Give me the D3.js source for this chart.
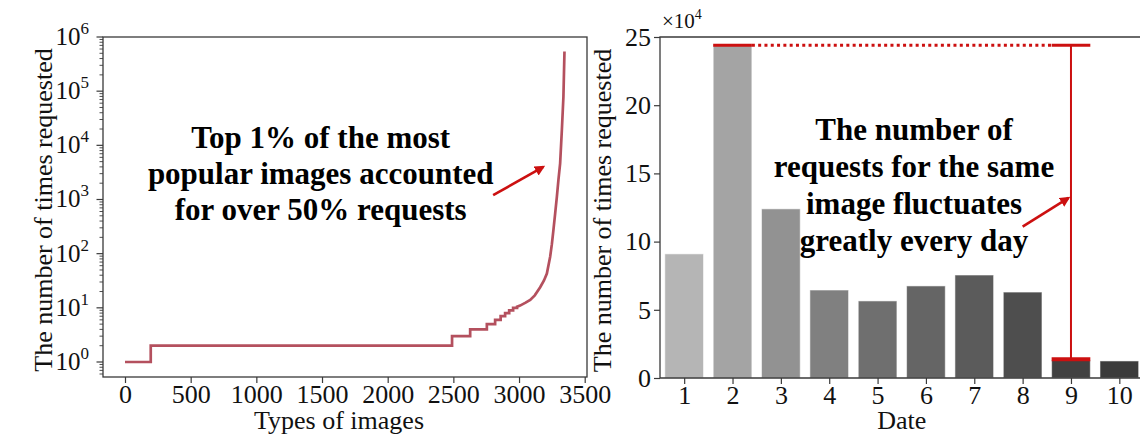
<!DOCTYPE html>
<html>
<head>
<meta charset="utf-8">
<script src="https://cdn.jsdelivr.net/npm/d3@7"></script>
<style>
  html, body { margin: 0; padding: 0; background: #fff; }
  svg { display: block; }
</style>
</head>
<body>
<svg id="chart" width="1140" height="435"></svg>
<script>
// ---------------- data ----------------
// Left panel: popularity of image types (sorted)
const imageRank = [0, 196, 196, 2490, 2490, 2628, 2628, 2755, 2755, 2818, 2818, 2860, 2860, 2894, 2894,
  2925, 2925, 2955, 2955, 2985, 2985, 3008, 3050, 3085, 3120, 3161, 3190, 3212, 3237, 3250, 3262,
  3275, 3288, 3300, 3313, 3326, 3338, 3346];
const requestCount = [1, 1, 2, 2, 3, 3, 4, 4, 5, 5, 6, 6, 7, 7, 8,
  8, 9, 9, 10, 10, 10.5, 11, 12.5, 14, 17, 24, 32, 43, 88, 150, 274,
  550, 1120, 2300, 4650, 19000, 79000, 540000];
const leftXTicks = [0, 500, 1000, 1500, 2000, 2500, 3000, 3500];
const leftYExponents = [0, 1, 2, 3, 4, 5, 6];

// Right panel: requests for the same image per day
const dates = [1, 2, 3, 4, 5, 6, 7, 8, 9, 10];
const dailyRequests = [91000, 244000, 124000, 64500, 56500, 67500, 75500, 63000, 13000, 12500];
const rightYTicks = [0, 5, 10, 15, 20, 25];   // in units of 10^4
const barColors = ["#b5b5b5", "#a4a4a4", "#929292", "#808080", "#6f6f6f",
                   "#656565", "#5b5b5b", "#4e4e4e", "#414141", "#3b3b3b"];

const leftNote = ["Top 1% of the most", "popular images accounted", "for over 50% requests"];
const rightNote = ["The number of", "requests for the same", "image fluctuates", "greatly every day"];

// ---------------- font detection ----------------
function pickFont(cands) {
  const c = document.createElement("canvas").getContext("2d");
  const s = "The number of times requested 0123456789";
  for (const f of cands) {
    for (const base of ["monospace", "sans-serif"]) {
      c.font = `20px ${base}`; const w0 = c.measureText(s).width;
      c.font = `20px "${f}", ${base}`; const w1 = c.measureText(s).width;
      if (Math.abs(w1 - w0) > 0.5) return `"${f}"`;
    }
  }
  return "serif";
}
const FONT = pickFont(["Liberation Serif", "Times New Roman", "Tinos", "Nimbus Roman", "FreeSerif", "DejaVu Serif"]);

// ---------------- drawing ----------------
const svg = d3.select("#chart").style("font-family", FONT);
const axisColor = "#3a3a3a";
const red = "#cc1010";

svg.append("defs").append("marker")
  .attr("id", "arrow").attr("viewBox", "0 0 10 10")
  .attr("refX", 8).attr("refY", 5)
  .attr("markerWidth", 4).attr("markerHeight", 4)
  .attr("orient", "auto")
  .append("path").attr("d", "M0,0 L10,5 L0,10 z").attr("fill", red);

// ===== Left panel =====
const L = { x0: 103, x1: 587, y0: 377, y1: 37 };
const xL = d3.scaleLinear().domain([-167.5, 3517.5]).range([L.x0, L.x1]);
const yL = d3.scaleLog().domain([Math.pow(10, -0.277), 1e6]).range([L.y0, L.y1]);

const gL = svg.append("g");

const line = d3.line().x((d, i) => xL(imageRank[i])).y((d, i) => yL(requestCount[i]));
gL.append("path")
  .datum(requestCount)
  .attr("d", line)
  .attr("fill", "none")
  .attr("stroke", "#b4505e")
  .attr("stroke-width", 2.7)
  .attr("stroke-linejoin", "miter");

const xAxisL = d3.axisBottom(xL).tickValues(leftXTicks).tickSize(6).tickPadding(2).tickFormat(d3.format("d"));
const gxL = gL.append("g").attr("transform", `translate(0,${L.y0})`).call(xAxisL).attr("font-family", null);
gxL.select(".domain").remove();
gxL.selectAll("line").attr("stroke", axisColor).attr("stroke-width", 1.2);
gxL.selectAll("text").attr("font-size", 26).attr("fill", "#111");

const minor = [];
for (let k = -1; k < 6; k++) for (let m = 2; m <= 9; m++) {
  const v = m * Math.pow(10, k);
  if (v >= yL.domain()[0] && v <= 1e6) minor.push(v);
}
gL.selectAll(".minorL").data(minor).enter().append("line")
  .attr("x1", L.x0 - 3.5).attr("x2", L.x0)
  .attr("y1", d => yL(d)).attr("y2", d => yL(d))
  .attr("stroke", axisColor).attr("stroke-width", 0.9);
gL.selectAll(".majorL").data(leftYExponents).enter().append("line")
  .attr("x1", L.x0 - 6.5).attr("x2", L.x0)
  .attr("y1", d => yL(Math.pow(10, d))).attr("y2", d => yL(Math.pow(10, d)))
  .attr("stroke", axisColor).attr("stroke-width", 1.2);
const yLab = gL.selectAll(".ylabL").data(leftYExponents).enter().append("text")
  .attr("x", L.x0 - 14)
  .attr("y", d => yL(Math.pow(10, d)) + 8)
  .attr("text-anchor", "end")
  .attr("font-size", 25).attr("fill", "#111");
yLab.append("tspan").text("10");
yLab.append("tspan").attr("dy", -11).attr("font-size", 17).text(d => d);

gL.append("rect").attr("x", L.x0).attr("y", L.y1).attr("width", L.x1 - L.x0).attr("height", L.y0 - L.y1)
  .attr("fill", "none").attr("stroke", axisColor).attr("stroke-width", 1.3);

gL.append("text").attr("x", (L.x0 + L.x1) / 2 - 6).attr("y", 429)
  .attr("text-anchor", "middle").attr("font-size", 26).attr("fill", "#111").text("Types of images");
gL.append("text").attr("transform", `translate(52,${(L.y0 + L.y1) / 2 + 3}) rotate(-90)`)
  .attr("text-anchor", "middle").attr("font-size", 26).attr("fill", "#111").text("The number of times requested");

gL.selectAll(".noteL").data(leftNote).enter().append("text")
  .attr("x", xL(1490)).attr("y", (d, i) => 148 + i * 36)
  .attr("text-anchor", "middle").attr("font-size", 31).attr("font-weight", "bold").attr("fill", "#000")
  .text(d => d);
gL.append("line")
  .attr("x1", xL(2803)).attr("y1", yL(1200))
  .attr("x2", xL(3185)).attr("y2", yL(4000))
  .attr("stroke", red).attr("stroke-width", 2.6).attr("marker-end", "url(#arrow)");

// ===== Right panel =====
const R = { x0: 660, x1: 1143.5, y0: 378, y1: 37 };
const xR = d3.scaleLinear().domain([0.5, 10.5]).range([R.x0, R.x1]);
const yR = d3.scaleLinear().domain([0, 25e4]).range([R.y0, R.y1]);
const bw = 0.8;

const gR = svg.append("g");

gR.selectAll(".bar").data(dailyRequests).enter().append("rect")
  .attr("x", (d, i) => xR(dates[i] - bw / 2))
  .attr("width", xR(bw) - xR(0))
  .attr("y", d => yR(d))
  .attr("height", d => yR(0) - yR(d))
  .attr("fill", (d, i) => barColors[i])
  .attr("stroke", "rgba(255,255,255,0.55)").attr("stroke-width", 1);

const xAxisR = d3.axisBottom(xR).tickValues(dates).tickSize(6).tickPadding(2).tickFormat(d3.format("d"));
const gxR = gR.append("g").attr("transform", `translate(0,${R.y0})`).call(xAxisR).attr("font-family", null);
gxR.select(".domain").remove();
gxR.selectAll("line").attr("stroke", axisColor).attr("stroke-width", 1.2);
gxR.selectAll("text").attr("font-size", 26).attr("fill", "#111");

const yAxisR = d3.axisLeft(yR).tickValues(rightYTicks.map(v => v * 1e4)).tickSize(6).tickPadding(3)
  .tickFormat(v => d3.format("d")(v / 1e4));
const gyR = gR.append("g").attr("transform", `translate(${R.x0},0)`).call(yAxisR).attr("font-family", null);
gyR.select(".domain").remove();
gyR.selectAll("line").attr("stroke", axisColor).attr("stroke-width", 1.2);
gyR.selectAll("text").attr("font-size", 26).attr("fill", "#111");

gR.append("path").attr("d", `M${R.x1},${R.y1}H${R.x0}V${R.y0}H${R.x1}V${R.y1}`)
  .attr("fill", "none").attr("stroke", axisColor).attr("stroke-width", 1.3);

const mult = gR.append("text").attr("x", R.x0 + 2).attr("y", 28).attr("font-size", 21).attr("fill", "#111");
mult.append("tspan").text("×10");
mult.append("tspan").attr("dy", -9).attr("font-size", 14).text("4");

gR.append("text").attr("x", xR(5.5)).attr("y", 429)
  .attr("text-anchor", "middle").attr("font-size", 26).attr("fill", "#111").text("Date");
gR.append("text").attr("transform", `translate(611,${(R.y0 + R.y1) / 2 + 3}) rotate(-90)`)
  .attr("text-anchor", "middle").attr("font-size", 26).attr("fill", "#111").text("The number of times requested");

const hi = dailyRequests[1], lo = dailyRequests[8];
gR.append("line").attr("x1", xR(2 - bw / 2)).attr("x2", xR(2 + bw / 2))
  .attr("y1", yR(hi)).attr("y2", yR(hi)).attr("stroke", red).attr("stroke-width", 3);
gR.append("line").attr("x1", xR(2 + bw / 2)).attr("x2", xR(9 - bw / 2))
  .attr("y1", yR(hi)).attr("y2", yR(hi)).attr("stroke", red).attr("stroke-width", 3)
  .attr("stroke-dasharray", "3,3.3");
gR.append("line").attr("x1", xR(9 - bw / 2)).attr("x2", xR(9 + bw / 2))
  .attr("y1", yR(hi)).attr("y2", yR(hi)).attr("stroke", red).attr("stroke-width", 3);
gR.append("line").attr("x1", xR(9)).attr("x2", xR(9))
  .attr("y1", yR(hi)).attr("y2", yR(lo)).attr("stroke", red).attr("stroke-width", 2);
gR.append("line").attr("x1", xR(9 - bw / 2)).attr("x2", xR(9 + bw / 2))
  .attr("y1", yR(lo) - 1).attr("y2", yR(lo) - 1).attr("stroke", red).attr("stroke-width", 4);

gR.selectAll(".noteR").data(rightNote).enter().append("text")
  .attr("x", 914).attr("y", (d, i) => 140 + i * 37)
  .attr("text-anchor", "middle").attr("font-size", 31).attr("font-weight", "bold").attr("fill", "#000")
  .text(d => d);
gR.append("line")
  .attr("x1", xR(8.0)).attr("y1", yR(111000))
  .attr("x2", xR(8.95)).attr("y2", yR(132000))
  .attr("stroke", red).attr("stroke-width", 2.6).attr("marker-end", "url(#arrow)");
</script>
</body>
</html>
